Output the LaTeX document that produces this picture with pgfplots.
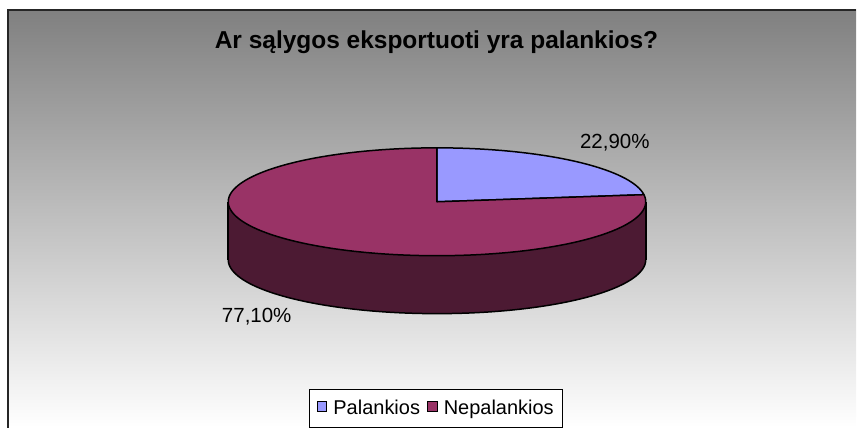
\documentclass[border=0pt]{standalone}
\usepackage{pgfplots}
\pgfplotsset{compat=1.18}
\usepackage{pgfplotstable}
\usepackage{fontspec}
\setmainfont{Liberation Sans}
\definecolor{pblue}{HTML}{9999FF}
\definecolor{pred}{HTML}{993366}
\definecolor{pside}{HTML}{4C1A33}
\definecolor{bgtop}{HTML}{808080}

\pgfplotstableread{
name value
Palankios 22.9
Nepalankios 77.1
}\piedata
\pgfplotstablegetelem{0}{value}\of\piedata \let\vA\pgfplotsretval
\pgfplotstablegetelem{1}{value}\of\piedata \let\vB\pgfplotsretval
\pgfmathsetmacro\cx{437.5}
\pgfmathsetmacro\cy{202}
\pgfmathsetmacro\rx{209}
\pgfmathsetmacro\ry{54}
\pgfmathsetmacro\dep{58}
\pgfmathsetmacro\aS{90-3.6*\vA}
\pgfmathsetmacro\aE{90+3.6*\vB}
\pgfmathsetmacro\xl{\cx-\rx}
\pgfmathsetmacro\xr{\cx+\rx}
\pgfmathsetmacro\yb{\cy+\dep}

\begin{document}%
\begin{tikzpicture}
\begin{axis}[
  scale only axis, width=857pt, height=428pt,
  xmin=0, xmax=857, ymin=0, ymax=428, y dir=reverse,
  hide axis, clip=false,
  legend style={at={(axis cs:436.7,408.7)}, anchor=center, draw=black, line width=0.8pt, fill=white,
    font=\fontsize{20}{23}\selectfont, inner xsep=7pt, inner ysep=9pt,
    /tikz/every even column/.append style={column sep=5pt}},
  legend columns=2,
  legend image code/.code={\draw[#1, draw=black, line width=0.8pt] (0pt,-3pt) rectangle (9.5pt,6.5pt); \path (14pt,0pt);},
]
\fill[white] (axis cs:0,0) rectangle (axis cs:857,428);
\fill[top color=bgtop, bottom color=white] (axis cs:8,10) rectangle (axis cs:857,428);
\draw[line width=2pt, black!85] (axis cs:8,428) -- (axis cs:8,10) -- (axis cs:857,10);

% side of the pie
\addplot[draw=none, fill=pside, domain=0:360, samples=150, forget plot] ({\cx+\rx*cos(x)},{\cy+\dep-\ry*sin(x)}) -- cycle;
\addplot[draw=none, fill=pside, forget plot] coordinates {(\xl,\cy) (\xr,\cy) (\xr,\yb) (\xl,\yb)} -- cycle;
\addplot[black, line width=1.5pt, domain=180:360, samples=150, forget plot] ({\cx+\rx*cos(x)},{\cy+\dep-\ry*sin(x)});
\addplot[black, line width=1.5pt, forget plot] coordinates {(\xl,\cy) (\xl,\yb)};
\addplot[black, line width=1.5pt, forget plot] coordinates {(\xr,\cy) (\xr,\yb)};

% top slices
\addplot[fill=pblue, draw=black, line width=1.5pt, line join=round, domain=\aS:90, samples=60, forget plot] ({\cx+\rx*cos(x)},{\cy-\ry*sin(x)}) -- (axis cs:\cx,\cy) -- cycle;
\addplot[fill=pred, draw=black, line width=1.5pt, line join=round, domain=90:\aE, samples=150, forget plot] ({\cx+\rx*cos(x)},{\cy-\ry*sin(x)}) -- (axis cs:\cx,\cy) -- cycle;

\node[anchor=base, font=\fontsize{20.5}{23}\selectfont] at (axis cs:615.5,148.3) {22,90\%};
\node[anchor=base, font=\fontsize{20.5}{23}\selectfont] at (axis cs:257,323.3) {77,10\%};
\node[anchor=base, font=\bfseries\fontsize{24.5}{28}\selectfont] at (axis cs:437,48.3) {Ar sąlygos eksportuoti yra palankios?};

\addlegendimage{fill=pblue}
\addlegendentry{Palankios}
\addlegendimage{fill=pred}
\addlegendentry{Nepalankios}
\end{axis}
\end{tikzpicture}%
\end{document}
